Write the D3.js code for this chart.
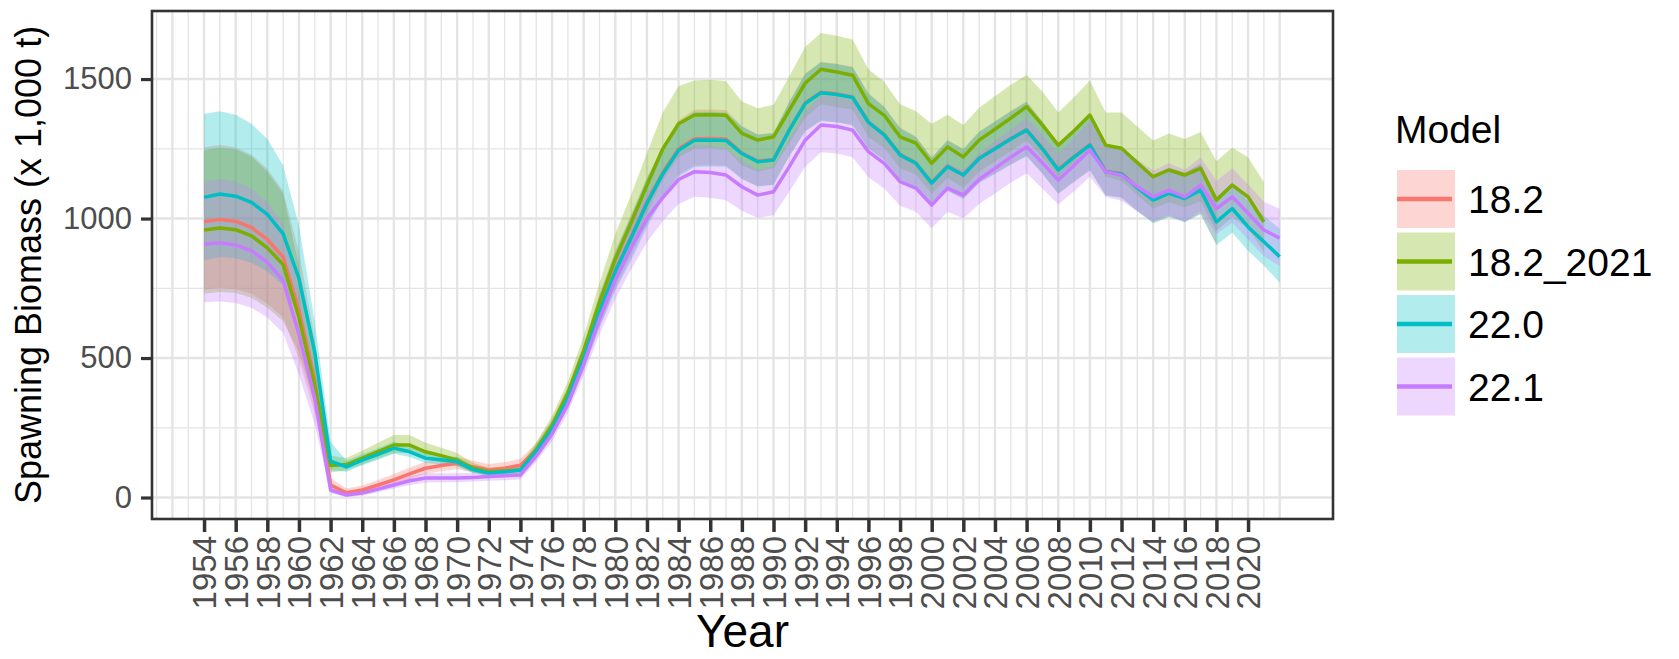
<!DOCTYPE html>
<html><head><meta charset="utf-8">
<script src="https://cdn.jsdelivr.net/npm/d3@7"></script>
<style>body{margin:0;background:#fff}svg{display:block}text{font-family:"Liberation Sans",Arial,sans-serif}</style>
</head><body><svg id="c" width="1679" height="659"></svg>
<script>
const firstYear = 1954;
const models = ["18.2", "18.2_2021", "22.0", "22.1"];
const colors = ["#F8766D", "#7CAE00", "#00BFC4", "#C77CFF"];
const xTickLabels = ["1954","1956","1958","1960","1962","1964","1966","1968","1970","1972","1974","1976","1978","1980","1982","1984","1986","1988","1990","1992","1994","1996","1998","2000","2002","2004","2006","2008","2010","2012","2014","2016","2018","2020"];
const yTicks = [0, 500, 1000, 1500];
const yMinor = [250, 750, 1250];

// 18.2 (1954-2018)
const sb182 = [989,997,990,968,925,862,670,420,45,17,27,45,63,85,105,115,123,110,99,105,116,170,250,360,505,670,815,935,1060,1165,1250,1286,1287,1285,1235,1206,1212,1319,1414,1453,1447,1436,1347,1302,1230,1200,1129,1188,1158,1217,1252,1287,1319,1252,1176,1222,1265,1170,1162,1112,1068,1092,1074,1104,990];
const lo182 = [745,752,747,730,695,645,495,300,28,8,15,30,46,66,85,94,101,90,80,85,95,148,222,325,462,612,748,862,980,1078,1157,1190,1191,1189,1143,1116,1122,1224,1314,1352,1346,1336,1252,1210,1141,1113,1045,1101,1072,1129,1162,1195,1225,1162,1090,1133,1174,1084,1076,1028,985,1007,989,1017,907];
const hi182 = [1255,1265,1255,1230,1178,1100,880,570,70,32,43,63,84,108,128,138,146,132,120,126,139,195,280,398,550,730,885,1015,1145,1262,1352,1390,1391,1389,1332,1302,1308,1420,1520,1562,1555,1544,1449,1402,1326,1294,1220,1282,1250,1312,1349,1386,1420,1349,1269,1318,1362,1263,1255,1202,1157,1183,1165,1197,1080];

// 18.2_2021 (1954-2021)
const sb1821 = [959,966,960,938,895,835,645,400,115,118,141,165,188,188,164,150,134,105,92,95,99,172,258,375,525,700,855,985,1120,1250,1340,1371,1372,1370,1305,1281,1293,1389,1485,1535,1525,1514,1412,1370,1293,1270,1198,1257,1221,1281,1320,1360,1401,1335,1263,1315,1371,1263,1252,1200,1150,1174,1156,1180,1066,1120,1078,988];
const lo1821 = [730,737,733,716,680,632,520,330,90,98,118,140,160,160,138,127,113,90,78,81,85,150,228,338,476,638,780,898,1020,1138,1220,1250,1252,1250,1190,1168,1180,1270,1360,1410,1400,1390,1292,1252,1180,1158,1090,1145,1110,1168,1205,1242,1280,1218,1150,1198,1252,1150,1135,1085,1035,1058,1040,1062,955,1005,965,880];
const hi1821 = [1245,1255,1248,1222,1168,1090,830,500,150,142,168,196,224,224,196,178,160,124,108,111,116,198,292,415,580,770,945,1085,1235,1380,1475,1495,1498,1492,1420,1395,1408,1510,1615,1665,1655,1642,1535,1490,1410,1385,1340,1372,1335,1397,1438,1480,1515,1455,1380,1435,1495,1380,1380,1330,1280,1305,1285,1310,1205,1255,1220,1130];

// 22.0 (1954-2022)
const sb220 = [1076,1088,1080,1058,1015,945,785,520,130,110,134,155,177,164,141,135,128,100,88,92,99,165,245,355,500,665,810,930,1055,1160,1245,1281,1282,1280,1233,1204,1210,1317,1412,1451,1445,1434,1345,1300,1228,1198,1127,1186,1156,1215,1250,1285,1317,1250,1174,1220,1263,1168,1160,1110,1066,1090,1072,1102,988,1036,970,917,863];
const lo220 = [850,862,858,842,810,760,650,440,98,92,116,135,157,145,124,119,113,87,76,80,86,145,218,320,455,608,742,850,968,1070,1150,1185,1187,1186,1142,1115,1120,1222,1312,1350,1344,1334,1250,1208,1139,1111,1043,1099,1070,1127,1160,1193,1223,1160,1088,1131,1172,1082,1074,1026,983,1005,987,1015,905,950,885,832,770];
const hi220 = [1375,1385,1372,1340,1285,1190,975,630,200,132,155,177,200,186,160,153,145,114,101,105,113,188,275,392,545,725,880,1010,1145,1255,1345,1382,1383,1380,1330,1300,1306,1418,1518,1560,1553,1542,1447,1400,1324,1292,1218,1280,1248,1310,1347,1384,1418,1347,1267,1316,1360,1261,1253,1200,1155,1181,1163,1195,1078,1128,1062,1010,963];

// 22.1 (1954-2022)
const sb221 = [909,913,905,885,843,778,585,355,27,9,16,30,45,60,70,70,70,72,75,78,81,148,228,335,478,640,780,895,1000,1075,1140,1168,1165,1156,1114,1084,1096,1186,1281,1335,1330,1317,1240,1198,1132,1109,1048,1109,1084,1140,1180,1220,1257,1200,1138,1190,1246,1168,1155,1115,1078,1102,1078,1120,1036,1078,1019,959,930];
const lo221 = [700,703,697,680,645,590,440,262,15,2,7,19,32,45,54,55,55,57,60,62,65,128,202,303,438,585,712,818,915,990,1052,1078,1075,1066,1028,1002,1012,1097,1186,1238,1233,1220,1148,1108,1046,1024,965,1024,1000,1052,1090,1128,1162,1108,1050,1098,1150,1077,1064,1025,990,1012,988,1027,945,985,925,865,830];
const hi221 = [1135,1142,1132,1108,1058,982,745,455,42,18,27,43,60,77,88,87,87,89,92,95,99,170,255,370,522,700,852,978,1090,1165,1235,1265,1262,1252,1207,1175,1188,1284,1385,1442,1436,1422,1340,1296,1226,1200,1138,1200,1174,1234,1277,1320,1360,1300,1232,1289,1350,1266,1254,1212,1172,1198,1175,1220,1135,1180,1122,1060,1035];

const series = [
  {name: models[0], color: colors[0], mid: sb182, lo: lo182, hi: hi182},
  {name: models[1], color: colors[1], mid: sb1821, lo: lo1821, hi: hi1821},
  {name: models[2], color: colors[2], mid: sb220, lo: lo220, hi: hi220},
  {name: models[3], color: colors[3], mid: sb221, lo: lo221, hi: hi221}
].map(s => ({...s, pts: s.mid.map((v, i) => ({year: firstYear + i, v, lo: s.lo[i], hi: s.hi[i]}))}));

const L = 152, R = 1333, T = 11, B = 519;
const svg = d3.select("#c");
const x = d3.scaleLinear().domain([1950.71, 2025.37]).range([L, R]);
const y = d3.scaleLinear().domain([-77, 1744]).range([B, T]);

svg.append("rect").attr("width", 1679).attr("height", 659).attr("fill", "#fff");
const grid = svg.append("g");
const gridYears = d3.range(1951, 2023);
grid.selectAll("line.v").data(gridYears).join("line")
  .attr("x1", d => x(d)).attr("x2", d => x(d)).attr("y1", T).attr("y2", B)
  .attr("stroke", "#E4E4E4").attr("stroke-width", d => d % 2 === 0 ? 2.4 : 1.3);
grid.selectAll("line.h").data(yTicks.concat(yMinor)).join("line")
  .attr("x1", L).attr("x2", R).attr("y1", d => y(d)).attr("y2", d => y(d))
  .attr("stroke", "#E4E4E4").attr("stroke-width", d => d % 500 === 0 ? 2.4 : 1.3);

const area = d3.area().x(d => x(d.year)).y0(d => y(d.lo)).y1(d => y(d.hi));
const line = d3.line().x(d => x(d.year)).y(d => y(d.v));
svg.append("g").selectAll("path").data(series).join("path")
  .attr("d", s => area(s.pts)).attr("fill", s => s.color).attr("fill-opacity", 0.3);
svg.append("g").selectAll("path").data(series).join("path")
  .attr("d", s => line(s.pts)).attr("fill", "none").attr("stroke", s => s.color)
  .attr("stroke-width", 3.5).attr("stroke-linejoin", "round");

svg.append("rect").attr("x", L).attr("y", T).attr("width", R - L).attr("height", B - T)
  .attr("fill", "none").attr("stroke", "#333").attr("stroke-width", 2.6);

const yAxis = svg.append("g").attr("transform", `translate(${L},0)`)
  .call(d3.axisLeft(y).tickValues(yTicks).tickFormat(d3.format("d")).tickSize(11).tickPadding(9));
yAxis.select(".domain").remove();
yAxis.selectAll("line").attr("stroke", "#333").attr("stroke-width", 3.2);
yAxis.selectAll("text").attr("font-size", 31).attr("fill", "#4D4D4D")
  .style("font-family", '"Liberation Sans",Arial,sans-serif');

const xAxis = svg.append("g").attr("transform", `translate(0,${B})`)
  .call(d3.axisBottom(x).tickValues(xTickLabels.map(Number)).tickFormat((d, i) => xTickLabels[i]).tickSize(13));
xAxis.select(".domain").remove();
xAxis.selectAll("line").attr("stroke", "#333").attr("stroke-width", 3.5);
xAxis.selectAll("text").attr("font-size", 33).attr("fill", "#4D4D4D")
  .style("font-family", '"Liberation Sans",Arial,sans-serif')
  .attr("transform", "rotate(-90)").attr("text-anchor", "end")
  .attr("x", -17).attr("y", 0).attr("dy", "0.36em");

svg.append("text").attr("transform", "translate(41,265) rotate(-90)")
  .attr("text-anchor", "middle").attr("font-size", 36).attr("fill", "#000")
  .text("Spawning Biomass (x 1,000 t)");
svg.append("text").attr("x", (L + R) / 2).attr("y", 647).attr("text-anchor", "middle")
  .attr("font-size", 46).attr("fill", "#000").text("Year");

const leg = svg.append("g");
leg.append("text").attr("x", 1395).attr("y", 143).attr("font-size", 39).attr("fill", "#000").text("Model");
const keyTop = 170, keyStep = 62.5, keySize = 58;
series.forEach((s, i) => {
  const ky = keyTop + i * keyStep;
  leg.append("rect").attr("x", 1397).attr("y", ky).attr("width", keySize).attr("height", keySize)
    .attr("fill", s.color).attr("fill-opacity", 0.3);
  leg.append("line").attr("x1", 1397).attr("x2", 1452).attr("y1", ky + keySize / 2).attr("y2", ky + keySize / 2)
    .attr("stroke", s.color).attr("stroke-width", 4.5);
  leg.append("text").attr("x", 1468).attr("y", ky + keySize / 2 + 14).attr("font-size", 39)
    .attr("fill", "#000").text(s.name);
});
</script></body></html>
